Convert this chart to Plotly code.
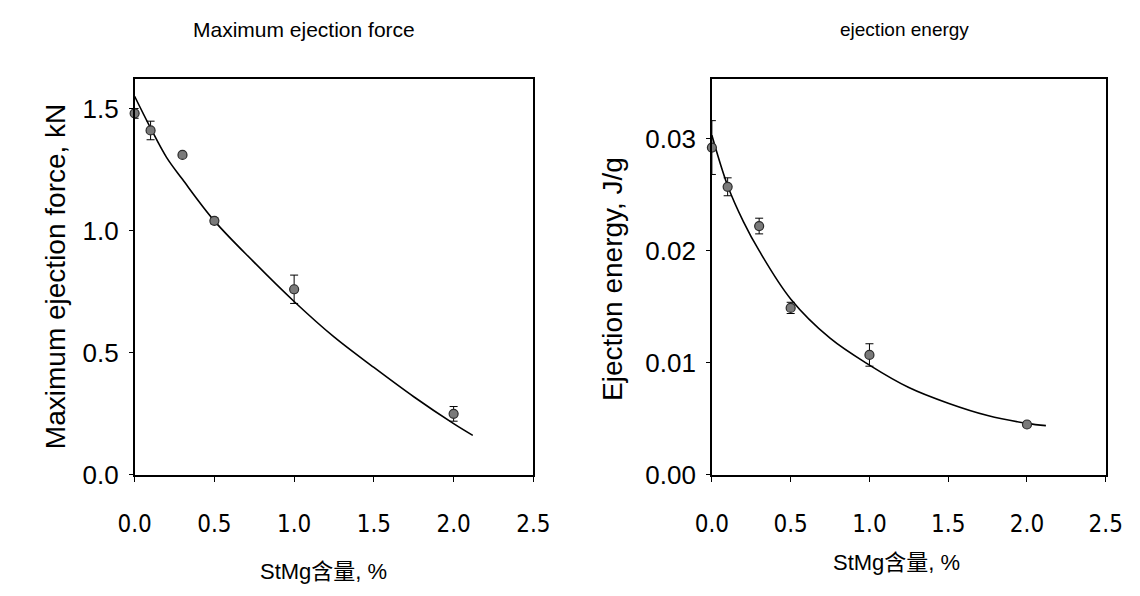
import plotly.graph_objects as go

# ---- data ----
stmg = [0.0, 0.1, 0.3, 0.5, 1.0, 2.0]
force = [1.48, 1.41, 1.31, 1.04, 0.76, 0.25]
force_err = [0.02, 0.038, 0.0, 0.012, 0.058, 0.03]
energy = [0.0292, 0.0257, 0.0222, 0.0149, 0.0107, 0.0045]
energy_err = [0.0024, 0.0008, 0.0007, 0.0005, 0.001, 0.0002]

fit_x = [0.0, 0.1, 0.2, 0.3, 0.5, 0.75, 1.0, 1.25, 1.5, 1.75, 2.0, 2.12]
force_fit = [1.55, 1.42, 1.30, 1.21, 1.04, 0.87, 0.71, 0.565, 0.44, 0.32, 0.21, 0.162]
energy_fit = [0.0303, 0.0258, 0.0226, 0.0200, 0.0157, 0.0122, 0.0098, 0.0078, 0.0064, 0.0053, 0.0046, 0.0044]

titles = ["Maximum ejection force", "ejection energy"]
y_titles = ["Maximum ejection force, kN", "Ejection energy, J/g"]
x_title = "StMg含量, %"

W, H = 1140, 596


def px(x):
    return x / W


def py(y):
    return 1 - y / H


fig = go.Figure()

marker = dict(size=9, color="#7a7a7a", line=dict(color="#2a2a2a", width=1.2))

fig.add_trace(go.Scatter(x=fit_x, y=force_fit, mode="lines", line=dict(color="black", width=1.6, shape="spline"),
                         xaxis="x", yaxis="y", showlegend=False, cliponaxis=False))
fig.add_trace(go.Scatter(x=stmg, y=force, mode="markers", marker=marker,
                         error_y=dict(type="data", array=force_err, color="black", thickness=1, width=4),
                         xaxis="x", yaxis="y", showlegend=False, cliponaxis=False))
fig.add_trace(go.Scatter(x=fit_x, y=energy_fit, mode="lines", line=dict(color="black", width=1.6, shape="spline"),
                         xaxis="x2", yaxis="y2", showlegend=False, cliponaxis=False))
fig.add_trace(go.Scatter(x=stmg, y=energy, mode="markers", marker=marker,
                         error_y=dict(type="data", array=energy_err, color="black", thickness=1, width=4),
                         xaxis="x2", yaxis="y2", showlegend=False, cliponaxis=False))

ydom = [py(479), py(73)]

xfont = dict(family="Liberation Sans Narrow, Arial Narrow, DejaVu Sans Condensed, Liberation Sans, Arial",
             size=24, color="black")
yfont = dict(family="Liberation Sans, Arial, Helvetica, sans-serif", size=26, color="black")

common_x = dict(range=[0, 2.5], dtick=0.5, tickformat=".1f", showline=True, linecolor="black", linewidth=1.5,
                mirror=True, ticks="outside", ticklen=5, tickcolor="black", showgrid=False, zeroline=False,
                tickfont=xfont, ticklabelstandoff=22)
common_y = dict(showline=True, linecolor="black", linewidth=1.5, mirror=True, ticks="outside", ticklen=4,
                tickcolor="black", showgrid=False, zeroline=False, tickfont=yfont, ticklabelstandoff=5)

fig.update_layout(
    width=W, height=H, margin=dict(l=0, r=0, t=0, b=0),
    paper_bgcolor="white", plot_bgcolor="white",
    xaxis=dict(domain=[px(113), px(524)], anchor="y", **common_x),
    yaxis=dict(domain=ydom, anchor="x", range=[0, 1.62], dtick=0.5, tickformat=".1f", **common_y),
    xaxis2=dict(domain=[px(708), px(1114)], anchor="y2", **common_x),
    yaxis2=dict(domain=ydom, anchor="x2", range=[0, 0.0353], dtick=0.01, tickformat=".2f", **common_y),
)

tfam = "Liberation Sans, Arial, Helvetica, sans-serif"
axfont = dict(family=tfam, size=28, color="black")
xtfont = dict(family="Liberation Sans Narrow, Arial Narrow, Liberation Sans, Noto Sans CJK SC, sans-serif",
              size=22, color="black")

fig.add_annotation(xref="paper", yref="paper", x=px(288), y=py(22), text=titles[0], showarrow=False,
                   font=dict(family=tfam, size=21, color="black"), xanchor="center", yanchor="middle")
fig.add_annotation(xref="paper", yref="paper", x=px(907), y=py(22), text=titles[1], showarrow=False,
                   font=dict(family=tfam, size=19, color="black"), xanchor="center", yanchor="middle")

fig.add_annotation(xref="paper", yref="paper", x=px(31), y=py(276), text=y_titles[0], textangle=-90,
                   showarrow=False, font=axfont, xanchor="center", yanchor="middle")
fig.add_annotation(xref="paper", yref="paper", x=px(605), y=py(278), text=y_titles[1], textangle=-90,
                   showarrow=False, font=axfont, xanchor="center", yanchor="middle")
fig.add_annotation(xref="paper", yref="paper", x=px(308), y=py(578), text=x_title,
                   showarrow=False, font=xtfont, xanchor="center", yanchor="middle")
fig.add_annotation(xref="paper", yref="paper", x=px(898), y=py(569), text=x_title,
                   showarrow=False, font=xtfont, xanchor="center", yanchor="middle")

fig.write_html("out.html")
